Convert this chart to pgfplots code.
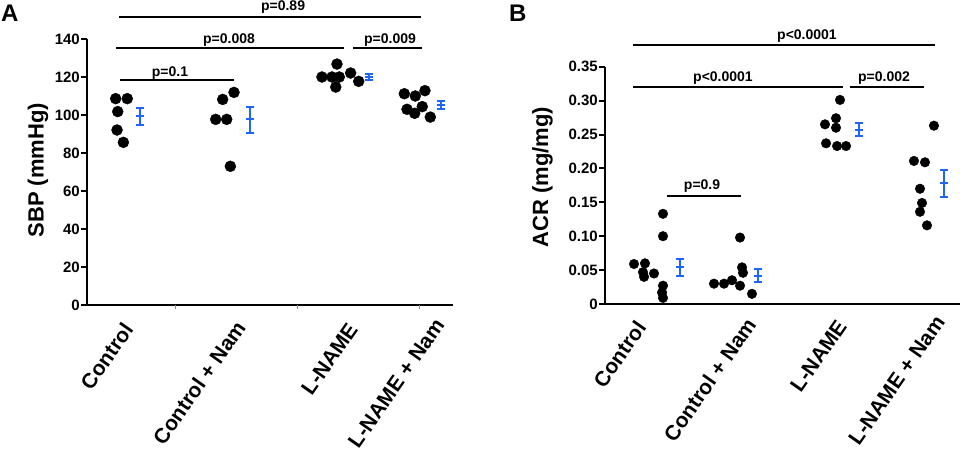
\documentclass[border=0pt]{standalone}
\usepackage{fontspec}
\setmainfont{Liberation Sans}
\usepackage{pgfplots}
\pgfplotsset{compat=1.18}
\definecolor{semblue}{RGB}{30,100,255}

\pgfplotsset{
  panel/.style={
    scale only axis, axis lines*=left, xmin=0, xmax=3, ymin=0, clip=false,
    axis line style={line width=2.5pt},
    tick align=outside, xtick=\empty, major tick length=6pt,
    ytick style={line width=2pt, black},
    yticklabel style={font=\bfseries\fontsize{15}{15}\selectfont, inner sep=1pt},
    /pgf/number format/assume math mode=true,
  },
  dots/.style={only marks, mark=*, black, mark size=#1},
  sem/.style={semblue, only marks, mark=-, mark size=4pt,
    mark options={line width=2pt},
    error bars/.cd, y dir=both, y explicit, error mark=-,
    error mark options={semblue, rotate=90, line width=2pt, mark size=4pt},
    error bar style={line width=2pt}},
  bracket/.style={black, line width=2pt, no marks},
}
\newcommand{\pfont}{\bfseries\fontsize{14}{14}\selectfont}
\newcommand{\cfont}{\bfseries\fontsize{21}{21}\selectfont}

\begin{document}
\begin{tikzpicture}[x=1pt,y=1pt]
\useasboundingbox (0,0) rectangle (960,450);

\node[anchor=north west, inner sep=0pt, font=\bfseries\fontsize{24}{24}\selectfont] at (1,445) {A};
\node[anchor=north west, inner sep=0pt, font=\bfseries\fontsize{24}{24}\selectfont] at (509,445) {B};

% ---------- panel A: SBP ----------
\begin{axis}[panel, at={(87pt,145pt)}, anchor=south west,
  width=366pt, height=266pt, ymax=140,
  ytick={0,20,...,140},
  extra x ticks={0.721,1.721,2.721}, extra x tick labels={},
  extra x tick style={major tick length=4pt, tick style={line width=0.8pt, black!45}},
  ylabel={SBP (mmHg)},
  every axis y label/.style={at={(axis description cs:-0.134,0.507)}, rotate=90, anchor=center,
    font=\bfseries\fontsize{22}{22}\selectfont},
]
\addplot[dots=5.5pt] coordinates {
  (0.235,108.6) (0.330,108.6) (0.252,101.8) (0.246,92.1) (0.298,85.6)
  (1.055,97.7) (1.145,97.7) (1.112,108.2) (1.205,111.9) (1.175,73.0)
  (1.926,120.0) (2.008,120.0) (2.068,120.0) (2.049,126.8) (2.039,114.7) (2.161,122.1) (2.227,117.7)
  (2.601,111.2) (2.691,110.0) (2.770,112.8) (2.623,103.0) (2.686,100.9) (2.748,104.4) (2.814,98.9)
};
\addplot[sem] coordinates {
  (0.437,99.5) += (0,4.3) -= (0,4.8)
  (1.334,97.9) += (0,6.1) -= (0,7.4)
  (2.314,119.8) += (0,1.8) -= (0,1.2)
  (2.899,105.4) += (0,2.1) -= (0,2.1)
};
\addplot[bracket] coordinates {(0.262,151.6) (2.738,151.6)};
\addplot[bracket] coordinates {(0.240,135.1) (2.104,135.1)};
\addplot[bracket] coordinates {(2.183,135.1) (2.748,135.1)};
\addplot[bracket] coordinates {(0.270,118.4) (1.202,118.4)};
\node[anchor=base, font=\pfont] at ([yshift=6pt]axis cs:1.607,151.6) {p=0.89};
\node[anchor=base, font=\pfont] at ([yshift=5pt]axis cs:1.164,135.1) {p=0.008};
\node[anchor=base, font=\pfont] at ([yshift=5pt]axis cs:2.484,135.1) {p=0.009};
\node[anchor=base, font=\pfont] at ([yshift=4pt]axis cs:0.680,118.4) {p=0.1};
\node[rotate=55, anchor=north east, inner sep=0pt, font=\cfont] at ([yshift=-16pt]axis cs:0.285,0) {Control};
\node[rotate=55, anchor=north east, inner sep=0pt, font=\cfont] at ([yshift=-14pt]axis cs:1.205,0) {Control + Nam};
\node[rotate=55, anchor=north east, inner sep=0pt, font=\cfont] at ([yshift=-16pt]axis cs:2.130,0) {L-NAME};
\node[rotate=55, anchor=north east, inner sep=0pt, font=\cfont] at ([yshift=-12pt]axis cs:2.840,0) {L-NAME + Nam};
\end{axis}

% ---------- panel B: ACR ----------
\begin{axis}[panel, at={(605pt,146pt)}, anchor=south west,
  width=355pt, height=237.3pt, ymax=0.35,
  ytick={0,0.05,...,0.35},
  yticklabels={0,0.05,0.10,0.15,0.20,0.25,0.30,0.35},
  ylabel={ACR (mg/mg)},
  every axis y label/.style={at={(axis description cs:-0.176,0.535)}, rotate=90, anchor=center,
    font=\bfseries\fontsize{22}{22}\selectfont},
]
\addplot[dots=4.8pt] coordinates {
  (0.245,0.059) (0.338,0.060) (0.321,0.047) (0.414,0.045) (0.330,0.040)
  (0.490,0.133) (0.490,0.100) (0.490,0.027) (0.482,0.017) (0.490,0.009)
  (0.921,0.030) (1.006,0.030) (1.073,0.035) (1.141,0.027) (1.158,0.054) (1.166,0.046) (1.141,0.098) (1.242,0.015)
  (1.859,0.265) (1.952,0.274) (1.952,0.260) (1.986,0.301) (1.868,0.237) (1.961,0.233) (2.037,0.233)
  (2.780,0.263) (2.611,0.211) (2.704,0.209) (2.662,0.170) (2.679,0.149) (2.662,0.136) (2.721,0.116)
};
\addplot[sem] coordinates {
  (0.634,0.055) += (0,0.011) -= (0,0.013)
  (1.293,0.042) += (0,0.009) -= (0,0.009)
  (2.147,0.257) += (0,0.010) -= (0,0.009)
  (2.865,0.179) += (0,0.019) -= (0,0.021)
};
\addplot[bracket] coordinates {(0.237,0.382) (2.789,0.382)};
\addplot[bracket] coordinates {(0.237,0.320) (2.011,0.320)};
\addplot[bracket] coordinates {(2.070,0.320) (2.696,0.320)};
\addplot[bracket] coordinates {(0.524,0.1595) (1.149,0.1595)};
\node[anchor=base, font=\pfont] at ([yshift=6pt]axis cs:1.707,0.382) {p<0.0001};
\node[anchor=base, font=\pfont] at ([yshift=6pt]axis cs:0.997,0.320) {p<0.0001};
\node[anchor=base, font=\pfont] at ([yshift=6pt]axis cs:2.358,0.320) {p=0.002};
\node[anchor=base, font=\pfont] at ([yshift=6pt]axis cs:0.820,0.1595) {p=0.9};
\node[rotate=55, anchor=north east, inner sep=0pt, font=\cfont] at ([yshift=-15pt]axis cs:0.250,0) {Control};
\node[rotate=55, anchor=north east, inner sep=0pt, font=\cfont] at ([yshift=-12pt]axis cs:1.180,0) {Control + Nam};
\node[rotate=55, anchor=north east, inner sep=0pt, font=\cfont] at ([yshift=-14pt]axis cs:1.950,0) {L-NAME};
\node[rotate=55, anchor=north east, inner sep=0pt, font=\cfont] at ([yshift=-10pt]axis cs:2.780,0) {L-NAME + Nam};
\end{axis}
\end{tikzpicture}
\end{document}
